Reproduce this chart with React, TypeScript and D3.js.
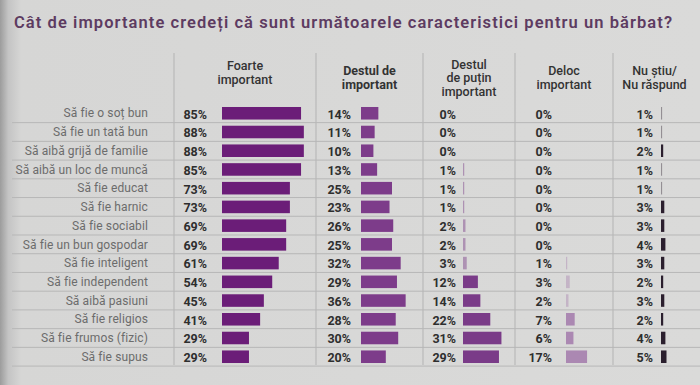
import React from "react";
import * as d3 from "d3";

const title = "Cât de importante credeți că sunt următoarele caracteristici pentru un bărbat?";
const categories = [
  "Să fie o soț bun",
  "Să fie un tată bun",
  "Să aibă grijă de familie",
  "Să aibă un loc de muncă",
  "Să fie educat",
  "Să fie harnic",
  "Să fie sociabil",
  "Să fie un bun gospodar",
  "Să fie inteligent",
  "Să fie independent",
  "Să aibă pasiuni",
  "Să fie religios",
  "Să fie frumos (fizic)",
  "Să fie supus",
];
const foarte = [85, 88, 88, 85, 73, 73, 69, 69, 61, 54, 45, 41, 29, 29];
const destul = [14, 11, 10, 13, 25, 23, 26, 25, 32, 29, 36, 28, 30, 20];
const putin = [0, 0, 0, 1, 1, 1, 2, 2, 3, 12, 14, 22, 31, 29];
const deloc = [0, 0, 0, 0, 0, 0, 0, 0, 1, 3, 2, 7, 6, 17];
const nuStiu = [1, 1, 2, 1, 1, 3, 3, 4, 3, 2, 3, 2, 4, 5];
const headers = [
  ["Foarte", "important"],
  ["Destul de", "important"],
  ["Destul", "de puțin", "important"],
  ["Deloc", "important"],
  ["Nu știu/", "Nu răspund"],
];

const W = 700;
const H = 385;
const FONT = "Roboto, 'Open Sans', sans-serif";

const columns = [
  { values: foarte, textEnd: 207, barStart: 222, max: 93, color: "#6b1d78", sepLeft: 174, sepRight: 316 },
  { values: destul, textEnd: 351, barStart: 361, max: 124, color: "#7d3c8a", sepLeft: 316, sepRight: 423 },
  { values: putin, textEnd: 456, barStart: 463, max: 124, color: "#7a3b88", sepLeft: 423, sepRight: 515 },
  { values: deloc, textEnd: 552, barStart: 566, max: 124, color: "#ab88b2", sepLeft: 515, sepRight: 613 },
  { values: nuStiu, textEnd: 653, barStart: 661, max: 110, color: "#2b1f2e", sepLeft: 613, sepRight: 705 },
];

export default function App() {
  const y = d3.scaleBand<string>().domain(categories).range([104, 366]).paddingInner(0.33).paddingOuter(0.16);
  const step = y.step();
  const seps = [174, 316, 423, 515, 613];

  return (
    <svg
      width={W}
      height={H}
      viewBox={`0 0 ${W} ${H}`}
      style={{ position: "absolute", left: 0, top: 0 }}
    >
      <defs>
        <linearGradient id="paper" x1="0" x2="1" y1="0" y2="0">
          <stop offset="0" stopColor="#9c9c9c" />
          <stop offset="0.012" stopColor="#c4c4c4" />
          <stop offset="0.03" stopColor="#d6d6d5" />
          <stop offset="1" stopColor="#dadad9" />
        </linearGradient>
      </defs>
      <rect x={0} y={0} width={W} height={H} fill="url(#paper)" />

      <text
        x={14}
        y={28}
        fontFamily={FONT}
        fontWeight={600}
        fontSize={16.5}
        fill="#5d3b61"
        textLength={658}
        lengthAdjust="spacing"
      >
        {title}
      </text>

      {/* vertical separators */}
      {seps.map((x, i) => (
        <line key={"v" + i} x1={x} x2={x} y1={53} y2={365} stroke="#b3b3b3" strokeWidth={1} />
      ))}

      {/* headers */}
      {headers.map((lines, i) => {
        const cx = (columns[i].sepLeft + Math.min(columns[i].sepRight, 700)) / 2 + (i === 4 ? -2 : 0);
        const lh = 13.5;
        const cy = i === 2 ? 78 : i === 0 ? 73 : 78;
        const y0 = cy - ((lines.length - 1) * lh) / 2;
        return (
          <text
            key={"h" + i}
            textAnchor="middle"
            fontFamily={FONT}
            fontWeight={i === 1 ? 700 : 500}
            fontSize={12.5}
            fill="#333"
          >
            {lines.map((l, j) => (
              <tspan key={j} x={cx} y={y0 + j * lh + 4}>
                {l}
              </tspan>
            ))}
          </text>
        );
      })}

      {/* horizontal row separators */}
      {categories.map((c, i) => (
        <line
          key={"r" + i}
          x1={12}
          x2={W}
          y1={(y(c) as number) + y.bandwidth() + (step - y.bandwidth()) / 2}
          y2={(y(c) as number) + y.bandwidth() + (step - y.bandwidth()) / 2}
          stroke="#b7b7b7"
          strokeWidth={1}
        />
      ))}

      {/* row labels */}
      {categories.map((c) => (
        <text
          key={"l" + c}
          x={148}
          y={(y(c) as number) + y.bandwidth() / 2}
          dy="0.35em"
          textAnchor="end"
          fontFamily={FONT}
          fontSize={12}
          fill="#6c6c6c"
          letterSpacing={0.1}
        >
          {c}
        </text>
      ))}

      {/* columns */}
      {columns.map((col, ci) => {
        const x = d3.scaleLinear().domain([0, 100]).range([0, col.max]);
        return (
          <g key={"c" + ci}>
            {categories.map((c, i) => {
              const v = col.values[i];
              const yy = y(c) as number;
              return (
                <g key={c}>
                  <text
                    x={col.textEnd}
                    y={yy + y.bandwidth() / 2 + 1}
                    dy="0.35em"
                    textAnchor="end"
                    fontFamily={FONT}
                    fontWeight={700}
                    fontSize={12.5}
                    fill="#2e2e2e"
                  >
                    {v + "%"}
                  </text>
                  {v > 0 && (
                    <rect
                      x={col.barStart}
                      y={yy}
                      width={Math.max(1, x(v))}
                      height={y.bandwidth()}
                      fill={col.color}
                      opacity={v < 4 && ci > 0 && ci < 4 ? 0.45 : ci === 4 && v < 2 ? 0.4 : 1}
                    />
                  )}
                </g>
              );
            })}
          </g>
        );
      })}
    </svg>
  );
}
